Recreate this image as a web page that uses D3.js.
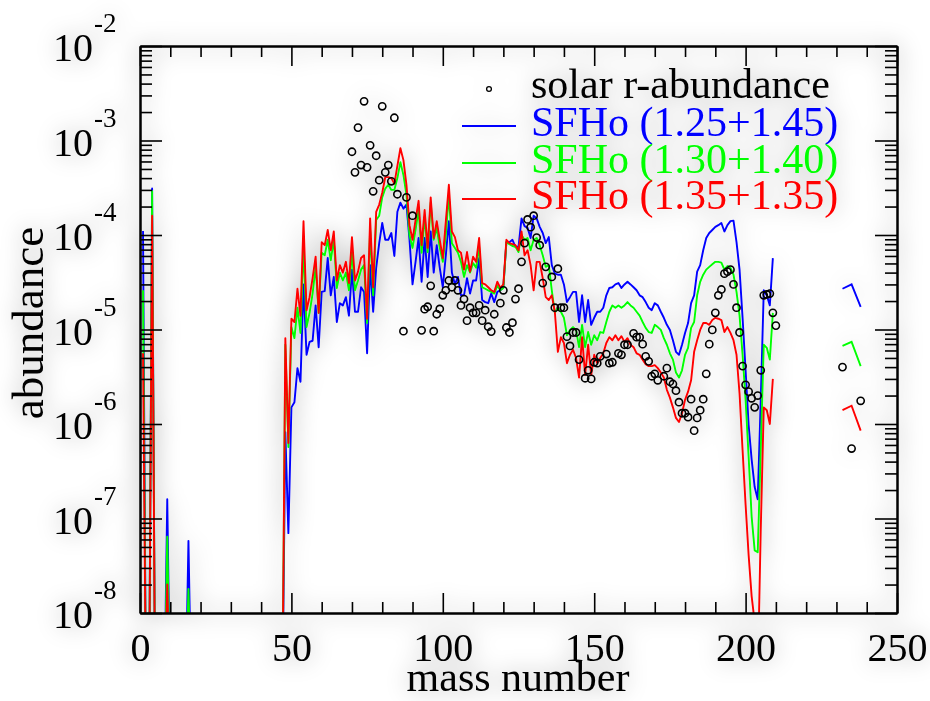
<!DOCTYPE html>
<html><head><meta charset="utf-8">
<script src="https://cdn.jsdelivr.net/npm/d3@7"></script>
<style>html,body{margin:0;padding:0;background:#fff;} svg{display:block;}</style>
</head><body>
<svg id="chart" width="930" height="701"></svg>
<script>
// ---------------- DATA ----------------
// model abundances for mass numbers A = 1 .. 209 (0 = not produced)
const firstMass = 1;
const blueSeries = [
 1.1e-4,0,0,3.1e-4,0,0,0,0,1.6e-7,0,0,0,0,0,0,5.8e-8,
 0,0,0,0,0,0,0,0,0,0,0,0,0,0,0,0,0,0,0,0,0,0,0,0,0,0,0,0,0,0,0,
 8.2e-7,7.0e-8,1.5e-6,1.7e-6,3.9e-6,2.8e-6,3.0e-5,5.4e-6,7.4e-6,7.6e-6,1.8e-5,6.5e-6,
 2.5e-5,2.55e-5,5.7e-5,2.3e-5,3.6e-5,1.2e-5,1.9e-5,1.8e-5,2.2e-5,1.4e-5,
 4.3e-5,1.54e-5,1.54e-5,2.8e-5,2.5e-5,5.6e-6,4.8e-5,1.54e-5,4.5e-5,8.2e-5,
 1.34e-4,8.9e-5,8.9e-5,1.05e-4,6.0e-5,1.76e-4,2.2e-4,1.9e-4,2.1e-4,8.9e-5,
 3.0e-5,5.2e-5,9.3e-5,3.2e-5,9.3e-5,3.6e-5,1.09e-4,4.0e-5,7.8e-5,4.5e-5,
 2.8e-5,6.1e-5,1.4e-4,4.0e-5,3.0e-5,3.6e-5,2.3e-5,2.3e-5,3.5e-5,2.4e-5,
 3.3e-5,3.3e-5,5.7e-5,2.05e-5,1.95e-5,1.9e-5,2.4e-5,1.95e-5,2.5e-5,2.6e-5,
 2.8e-5,8.4e-5,8.4e-5,8.9e-5,7.5e-5,7.5e-5,1.5e-4,1.24e-4,1.19e-4,9.3e-5,
 1.6e-4,1.5e-4,1.22e-4,1.05e-4,8.2e-5,9.5e-5,4.8e-5,3.9e-5,3.8e-5,3.8e-5,
 3.0e-5,1.95e-5,2.2e-5,2.5e-5,2.5e-5,1.2e-5,2.3e-5,1.2e-5,2.05e-5,1.12e-5,
 1.33e-5,1.54e-5,1.54e-5,1.7e-5,2.3e-5,2.75e-5,2.8e-5,3.0e-5,3.1e-5,2.75e-5,
 3.0e-5,3.2e-5,3.0e-5,2.8e-5,2.6e-5,2.3e-5,2.2e-5,1.95e-5,1.7e-5,1.6e-5,
 1.9e-5,1.8e-5,1.54e-5,1.33e-5,1.12e-5,9.9e-6,7.7e-6,5.8e-6,5.4e-6,6.9e-6,
 9.2e-6,1.17e-5,1.9e-5,2.3e-5,4.1e-5,4.8e-5,6.9e-5,9.3e-5,1.05e-4,1.13e-4,
 1.22e-4,1.27e-4,1.34e-4,1.09e-4,1.27e-4,1.4e-4,1.42e-4,8.4e-5,4.3e-5,1.33e-5,
 3.7e-6,9.8e-7,4.2e-7,2.15e-7,1.6e-7,1.8e-6,2.6e-5,2.3e-5,1.8e-5,5.7e-5
];
const greenSeries = [
 2.6e-5,0,0,2.9e-4,0,0,0,0,6.4e-8,0,0,0,0,0,0,1.8e-8,
 0,0,0,0,0,0,0,0,0,0,0,0,0,0,0,0,0,0,0,0,0,0,0,0,0,0,0,0,0,0,0,
 6.9e-6,5.7e-7,1.06e-5,8.1e-6,1.7e-5,9.2e-6,7.8e-5,1.06e-5,1.5e-5,2.4e-5,4.6e-5,1.5e-5,
 6.5e-5,6.1e-5,8.9e-5,5.4e-5,8.9e-5,2.75e-5,4.0e-5,3.3e-5,4.0e-5,2.6e-5,
 6.5e-5,2.6e-5,3.3e-5,4.3e-5,4.8e-5,1.17e-5,1.13e-4,2.3e-5,1.44e-4,1.6e-4,
 2.5e-4,3.1e-4,3.4e-4,3.0e-4,3.0e-4,4.0e-4,5.9e-4,4.3e-4,2.65e-4,1.0e-4,
 7.3e-5,1.13e-4,1.84e-4,6.5e-5,1.55e-4,6.6e-5,2.2e-4,8.9e-5,1.19e-4,7.3e-5,
 5.2e-5,1.0e-4,2.65e-4,8.2e-5,7.3e-5,6.5e-5,5.2e-5,3.6e-5,4.8e-5,4.0e-5,
 5.05e-5,4.5e-5,7.5e-5,2.8e-5,2.7e-5,2.6e-5,2.5e-5,2.4e-5,2.9e-5,2.6e-5,
 2.75e-5,8.4e-5,8.0e-5,7.65e-5,7.5e-5,6.6e-5,1.0e-4,8.9e-5,9.3e-5,6.9e-5,
 8.9e-5,9.3e-5,7.8e-5,6.1e-5,4.6e-5,4.8e-5,2.6e-5,1.5e-5,1.7e-5,1.54e-5,
 1.33e-5,8.7e-6,9.9e-6,1.06e-5,9.9e-6,6.5e-6,1.12e-5,6.5e-6,9.4e-6,6.9e-6,
 8.7e-6,7.7e-6,9.4e-6,9.2e-6,1.2e-5,1.54e-5,1.8e-5,1.7e-5,1.8e-5,1.7e-5,
 1.8e-5,1.95e-5,1.8e-5,1.7e-5,1.54e-5,1.4e-5,1.2e-5,1.04e-5,9.4e-6,9.2e-6,
 1.12e-5,1.06e-5,9.9e-6,8.1e-6,6.9e-6,5.6e-6,4.8e-6,3.5e-6,3.1e-6,3.7e-6,
 5.4e-6,6.4e-6,1.04e-5,1.2e-5,2.3e-5,3.2e-5,3.8e-5,4.3e-5,4.6e-5,4.9e-5,
 5.2e-5,5.2e-5,5.1e-5,4.3e-5,4.7e-5,4.5e-5,3.8e-5,2.5e-5,1.4e-5,5.4e-6,
 1.8e-6,4.5e-7,1.04e-7,4.6e-8,4.4e-8,5.3e-7,6.9e-6,6.4e-6,4.8e-6,1.5e-5
];
const redSeries = [
 5.6e-6,0,0,1.6e-4,0,0,0,0,2.0e-8,0,0,0,0,0,0,0,
 0,0,0,0,0,0,0,0,0,0,0,0,0,0,0,0,0,0,0,0,0,0,0,0,0,0,0,0,0,0,0,
 8.1e-6,6.3e-7,1.3e-5,1.2e-5,2.7e-5,1.4e-5,1.4e-4,1.6e-5,2.2e-5,3.5e-5,5.9e-5,1.5e-5,
 8.4e-5,7.8e-5,1.13e-4,6.9e-5,1.09e-4,3.3e-5,4.8e-5,4.0e-5,5.2e-5,3.1e-5,
 9.5e-5,3.3e-5,4.1e-5,5.7e-5,6.1e-5,1.3e-5,1.5e-4,2.8e-5,1.76e-4,2.1e-4,
 2.8e-4,4.1e-4,4.1e-4,4.0e-4,3.5e-4,5.4e-4,8.3e-4,6.2e-4,3.4e-4,1.27e-4,
 8.9e-5,1.44e-4,2.3e-4,7.8e-5,1.84e-4,7.3e-5,2.5e-4,9.3e-5,1.4e-4,8.9e-5,
 5.7e-5,1.4e-4,3.4e-4,1.09e-4,9.5e-5,6.9e-5,6.5e-5,4.3e-5,6.6e-5,4.1e-5,
 5.9e-5,5.2e-5,9.3e-5,3.1e-5,3.0e-5,2.8e-5,2.6e-5,2.5e-5,3.2e-5,2.75e-5,
 3.0e-5,8.9e-5,8.2e-5,8.0e-5,7.8e-5,6.9e-5,1.09e-4,6.1e-5,6.9e-5,4.8e-5,
 2.6e-5,5.2e-5,5.2e-5,3.5e-5,2.2e-5,2.05e-5,2.3e-5,1.54e-5,5.8e-6,8.3e-6,
 7.2e-6,4.4e-6,5.4e-6,6.1e-6,5.0e-6,3.1e-6,8.3e-6,3.3e-6,6.9e-6,3.3e-6,
 5.4e-6,4.4e-6,5.0e-6,5.6e-6,7.2e-6,8.3e-6,7.7e-6,8.7e-6,7.7e-6,8.5e-6,
 7.4e-6,8.1e-6,6.9e-6,6.5e-6,5.6e-6,5.4e-6,4.8e-6,4.3e-6,4.1e-6,4.1e-6,
 4.2e-6,3.9e-6,3.5e-6,3.1e-6,2.3e-6,1.9e-6,1.5e-6,1.16e-6,1.05e-6,1.3e-6,
 1.8e-6,2.2e-6,2.9e-6,5.8e-6,7.7e-6,9.9e-6,1.17e-5,1.17e-5,1.12e-5,1.26e-5,
 1.33e-5,1.3e-5,1.26e-5,9.4e-6,1.06e-5,9.2e-6,7.7e-6,5.4e-6,2.1e-6,5.3e-7,
 1.4e-7,4.1e-8,1.5e-8,8.0e-9,2.0e-9,7.6e-8,1.5e-6,1.4e-6,1.0e-6,3.0e-6
];
// actinide segment (Th, U)
const actinideMass = [232, 235, 238];
const blueActinide = [2.7e-5, 3.0e-5, 1.74e-5];
const greenActinide = [6.7e-6, 7.4e-6, 4.1e-6];
const redActinide = [1.4e-6, 1.56e-6, 8.5e-7];
// solar r-process abundances
const solarMass = [70,71,72,73,74,75,76,77,78,79,80,81,82,83,84,85,87,88,90,
 93,94,95,96,97,98,99,100,101,102,103,104,105,106,107,108,109,110,111,112,113,114,115,116,117,119,120,
 121,122,123,124,125,126,127,128,129,130,131,132,133,134,136,137,138,139,140,
 141,142,143,144,145,147,148,149,150,151,152,154,155,156,158,159,160,161,163,164,165,166,167,168,169,170,
 171,173,174,175,176,177,178,179,180,181,182,183,184,185,186,187,188,189,190,
 191,192,193,194,195,196,197,198,199,200,201,202,203,204,205,206,207,208,209,210,
 232,235,238];
const solarAbund = [7.6e-4,4.6e-4,1.37e-3,5.5e-4,2.6e-3,5.2e-4,8.9e-4,2.9e-4,6.9e-4,3.8e-4,2.3e-3,4.6e-4,5.5e-4,3.7e-4,1.74e-3,2.7e-4,9.6e-6,2.5e-4,1.6e-4,
 9.8e-6,1.64e-5,1.74e-5,2.9e-5,9.6e-6,1.45e-5,1.65e-5,2.3e-5,2.6e-5,3.3e-5,2.8e-5,3.3e-5,2.6e-5,1.8e-5,2.1e-5,1.24e-5,1.7e-5,1.5e-5,1.5e-5,1.8e-5,1.24e-5,1.6e-5,1.07e-5,9.5e-6,1.45e-5,1.9e-5,2.6e-5,
 1.05e-5,9.3e-6,1.18e-5,2.1e-5,2.7e-5,5.2e-5,8.2e-5,1.46e-4,1.21e-4,1.6e-4,9.4e-5,7.8e-5,3.1e-5,4.6e-5,3.6e-5,1.7e-5,4.4e-5,1.7e-5,1.7e-5,
 8.4e-6,6.7e-6,9.3e-6,9.3e-6,4.8e-6,3.05e-6,3.7e-6,3.0e-6,4.5e-6,4.4e-6,5.2e-6,5.5e-6,4.4e-6,4.5e-6,5.6e-6,5.4e-6,6.9e-6,6.9e-6,9.1e-6,8.3e-6,8.3e-6,7.0e-6,5.2e-6,4.6e-6,3.2e-6,3.4e-6,
 2.9e-6,3.2e-6,3.9e-6,2.8e-6,2.65e-6,2.25e-6,1.7e-6,1.3e-6,1.3e-6,1.18e-6,1.83e-6,8.5e-7,1.16e-6,1.4e-6,1.83e-6,3.4e-6,7.0e-6,9.9e-6,1.5e-5,
 2.3e-5,2.65e-5,3.9e-5,4.1e-5,4.3e-5,3.0e-5,1.7e-5,9.3e-6,4.1e-6,2.6e-6,2.2e-6,1.87e-6,1.5e-6,2.0e-6,3.7e-6,2.3e-5,2.35e-5,2.4e-5,1.5e-5,1.1e-5,
 4.0e-6,5.5e-7,1.76e-6];
const seriesLabels = ["SFHo (1.25+1.45)", "SFHo (1.30+1.40)", "SFHo (1.35+1.35)"];
const seriesColors = ["#0000ff", "#00ff00", "#ff0000"];
const solarLabel = "solar r-abundance";
const xTickValues = [0, 50, 100, 150, 200, 250];
const yDecadeExponents = [-8, -7, -6, -5, -4, -3, -2];
const xTitle = "mass number";
const yTitle = "abundance";

// ---------------- CHART ----------------
const svg = d3.select("#chart");
const plot = {left: 140, right: 897, top: 46, bottom: 613};
const x = d3.scaleLinear().domain([0, 250]).range([plot.left, plot.right]);
const y = d3.scaleLog().domain([1e-8, 1e-2]).range([plot.bottom, plot.top]);
const floorValue = 1e-9; // zero abundances drawn below the axis floor
const serif = "'Liberation Serif','Times New Roman',Times,serif";

const defs = svg.append("defs");
const f = defs.append("filter").attr("id", "halo")
  .attr("x", "-10%").attr("y", "-10%").attr("width", "120%").attr("height", "120%");
f.append("feGaussianBlur").attr("in", "SourceAlpha").attr("stdDeviation", 12).attr("result", "blur");
f.append("feComponentTransfer").attr("in", "blur").attr("result", "soft")
  .append("feFuncA").attr("type", "linear").attr("slope", 0.36);
const fm = f.append("feMerge");
fm.append("feMergeNode").attr("in", "soft");
fm.append("feMergeNode").attr("in", "SourceGraphic");
defs.append("clipPath").attr("id", "plotclip").append("rect")
  .attr("x", plot.left).attr("y", plot.top)
  .attr("width", plot.right - plot.left).attr("height", plot.bottom - plot.top);

svg.append("rect").attr("width", 930).attr("height", 701).attr("fill", "#fff");
const root = svg.append("g").attr("filter", "url(#halo)");

// data lines
const toPoints = (masses, vals) => masses.map((A, i) => ({A, v: vals[i]}));
const mainMasses = blueSeries.map((_, i) => firstMass + i);
const line = d3.line().x(d => x(d.A)).y(d => y(Math.max(d.v, floorValue)));
const dataG = root.append("g").attr("clip-path", "url(#plotclip)");
[[blueSeries, blueActinide], [greenSeries, greenActinide], [redSeries, redActinide]].forEach((s, k) => {
  dataG.append("path").datum(toPoints(mainMasses, s[0])).attr("d", line)
    .attr("fill", "none").attr("stroke", seriesColors[k]).attr("stroke-width", 1.9).attr("stroke-linejoin", "round");
  dataG.append("path").datum(toPoints(actinideMass, s[1])).attr("d", line)
    .attr("fill", "none").attr("stroke", seriesColors[k]).attr("stroke-width", 1.9);
});
dataG.selectAll("circle.solar").data(toPoints(solarMass, solarAbund)).join("circle")
  .attr("class", "solar").attr("cx", d => x(d.A)).attr("cy", d => y(d.v)).attr("r", 3.6)
  .attr("fill", "none").attr("stroke", "#000").attr("stroke-width", 1.6);

// axes
const decades = yDecadeExponents.map(e => Math.pow(10, e));
const minors = [];
yDecadeExponents.slice(0, -1).forEach(e => { for (let k = 2; k <= 9; k++) minors.push(k * Math.pow(10, e)); });
const xMinor = d3.range(0, 251, 10).filter(v => v % 50 !== 0);
function styleAxis(g) {
  g.selectAll("path.domain").attr("stroke", "#000").attr("stroke-width", 2);
  g.selectAll(".tick line").attr("stroke", "#000").attr("stroke-width", 1.6);
}
const axB = root.append("g").attr("transform", `translate(0,${plot.bottom})`)
  .call(d3.axisBottom(x).tickValues(xTickValues).tickSize(-20).tickSizeOuter(0).tickFormat(d3.format("d")));
axB.call(styleAxis);
axB.selectAll(".tick text").attr("y", 48).attr("dy", 0).attr("font-family", serif).attr("font-size", 40).attr("fill", "#000");
root.append("g").attr("transform", `translate(0,${plot.bottom})`)
  .call(d3.axisBottom(x).tickValues(xMinor).tickSize(-11).tickSizeOuter(0).tickFormat("")).call(styleAxis);
root.append("g").attr("transform", `translate(0,${plot.top})`)
  .call(d3.axisTop(x).tickValues(xTickValues).tickSize(-20).tickSizeOuter(0).tickFormat("")).call(styleAxis);
root.append("g").attr("transform", `translate(0,${plot.top})`)
  .call(d3.axisTop(x).tickValues(xMinor).tickSize(-11).tickSizeOuter(0).tickFormat("")).call(styleAxis);
root.append("g").attr("transform", `translate(${plot.left},0)`)
  .call(d3.axisLeft(y).tickValues(decades).tickSize(-22).tickSizeOuter(0).tickFormat("")).call(styleAxis);
root.append("g").attr("transform", `translate(${plot.left},0)`)
  .call(d3.axisLeft(y).tickValues(minors).tickSize(-12).tickSizeOuter(0).tickFormat("")).call(styleAxis);
root.append("g").attr("transform", `translate(${plot.right},0)`)
  .call(d3.axisRight(y).tickValues(decades).tickSize(-22).tickSizeOuter(0).tickFormat("")).call(styleAxis);
root.append("g").attr("transform", `translate(${plot.right},0)`)
  .call(d3.axisRight(y).tickValues(minors).tickSize(-12).tickSizeOuter(0).tickFormat("")).call(styleAxis);

// y tick labels 10^e
const yl = root.append("g").attr("font-family", serif).attr("fill", "#000");
yDecadeExponents.forEach((e, i) => {
  const yy = y(decades[i]);
  yl.append("text").attr("x", 93).attr("y", yy + 15).attr("text-anchor", "end").attr("font-size", 40).text("10");
  yl.append("text").attr("x", 94).attr("y", yy - 14).attr("font-size", 27).text(String(e));
});

// titles
root.append("text").attr("x", 518).attr("y", 691).attr("text-anchor", "middle")
  .attr("font-family", serif).attr("font-size", 42).text(xTitle);
root.append("text").attr("transform", "translate(43,323) rotate(-90)").attr("text-anchor", "middle")
  .attr("font-family", serif).attr("font-size", 45).text(yTitle);

// legend
const lg = root.append("g").attr("font-family", serif).attr("font-size", 42);
lg.append("circle").attr("cx", 489).attr("cy", 89).attr("r", 2.4).attr("fill", "none").attr("stroke", "#000").attr("stroke-width", 1.3);
lg.append("text").attr("x", 531).attr("y", 98).attr("fill", "#000").text(solarLabel);
const rowY = [136, 173, 209];
seriesLabels.forEach((t, k) => {
  lg.append("line").attr("x1", 462).attr("x2", 516).attr("y1", rowY[k] - 10).attr("y2", rowY[k] - 10)
    .attr("stroke", seriesColors[k]).attr("stroke-width", 1.8);
  lg.append("text").attr("x", 531).attr("y", rowY[k]).attr("fill", seriesColors[k]).text(t);
});
</script>
</body></html>
